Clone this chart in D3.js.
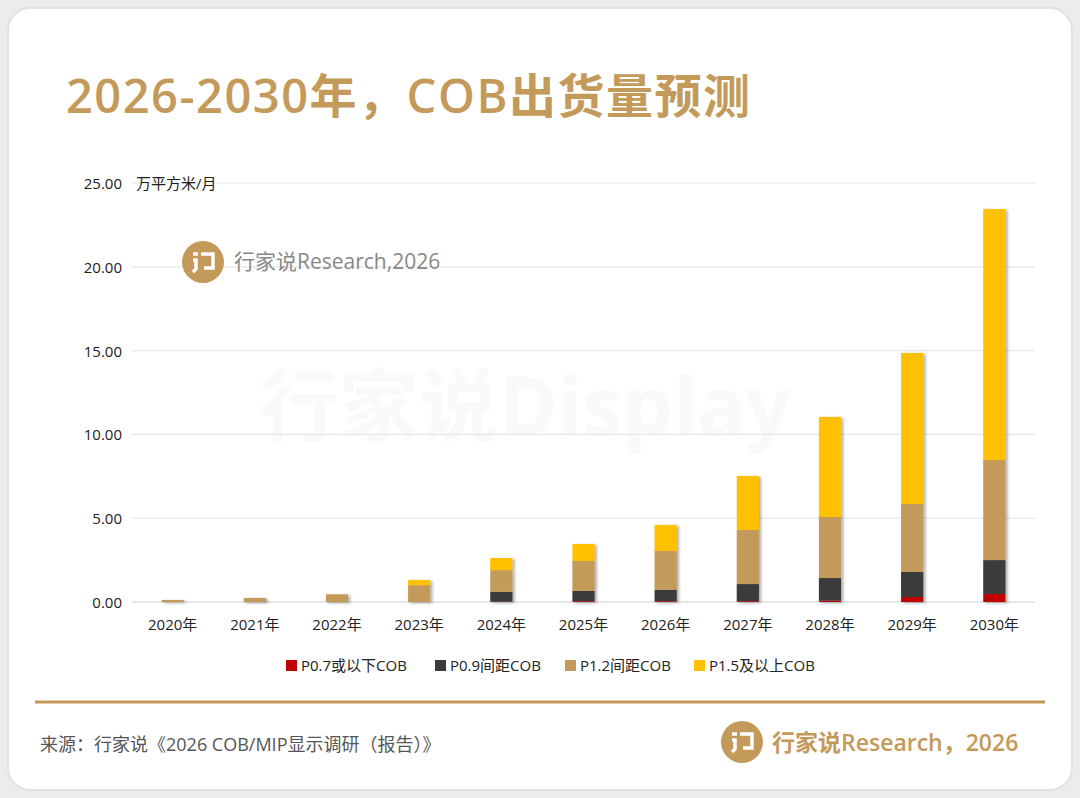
<!DOCTYPE html>
<html><head><meta charset="utf-8">
<script src="https://cdn.jsdelivr.net/npm/d3@7"></script>
<style>body{margin:0;background:#ececec;font-family:"Open Sans","Noto Sans CJK SC",sans-serif}</style>
</head><body><div id="vis"></div>
<script>
var years = ["2020年","2021年","2022年","2023年","2024年","2025年","2026年","2027年","2028年","2029年","2030年"];
var seriesNames = ["P0.7或以下COB","P0.9间距COB","P1.2间距COB","P1.5及以上COB"];
var colors = ["#C00000","#3A3A3A","#C49A5A","#FFC000"];
var p07 = [0, 0, 0, 0, 0.02, 0.05, 0.05, 0.05, 0.08, 0.30, 0.48];
var p09 = [0, 0, 0, 0, 0.58, 0.61, 0.67, 1.02, 1.35, 1.49, 2.02];
var p12 = [0.12, 0.24, 0.46, 1.00, 1.30, 1.79, 2.33, 3.23, 3.64, 4.06, 5.97];
var p15 = [0, 0, 0, 0.31, 0.72, 1.01, 1.55, 3.22, 5.97, 9.01, 14.98];
var yTicks = [0, 5, 10, 15, 20, 25];

var W = 1080, H = 798;
var svg = d3.select("#vis").append("svg").attr("width", W).attr("height", H);
var defs = svg.append("defs");
var f = defs.append("filter").attr("id", "sh").attr("x", "-20%").attr("width", "160%");
f.append("feDropShadow").attr("dx", 2).attr("dy", 1).attr("stdDeviation", 1.5).attr("flood-color", "#000").attr("flood-opacity", 0.35);

svg.append("rect").attr("x", 8).attr("y", 8).attr("width", W - 16).attr("height", H - 16)
    .attr("rx", 22).attr("fill", "#fff").attr("stroke", "#e2e2e2").attr("stroke-width", 2);

svg.append("text").attr("x", 66).attr("y", 113).attr("fill", "#C49A5A").attr("letter-spacing", 1.5)
    .attr("font-size", 47).attr("font-weight", 600).text("2026-2030年，COB出货量预测");

// watermark
svg.append("text").attr("x", 525).attr("y", 435).attr("text-anchor", "middle").attr("fill", "#8a6a40")
    .attr("opacity", 0.035).attr("font-size", 80).attr("font-weight", 700).text("行家说Display");

var margin = {left: 132, right: 45, top: 183, bottom: 196};
var x = d3.scaleBand().domain(years).range([margin.left, W - margin.right]).paddingInner(0.73).paddingOuter(0.36);
var y = d3.scaleLinear().domain([0, 25]).range([H - margin.bottom, margin.top]);

var g = svg.append("g");
g.selectAll(".grid").data(yTicks).enter().append("line")
    .attr("x1", margin.left).attr("x2", W - margin.right)
    .attr("y1", d => y(d)).attr("y2", d => y(d))
    .attr("stroke", d => d === 0 ? "#cfcfcf" : "#e6e6e6").attr("stroke-width", 1.2);
g.selectAll(".yl").data(yTicks).enter().append("text")
    .attr("x", 122).attr("y", d => y(d) + 6).attr("text-anchor", "end")
    .attr("font-size", 15).attr("fill", "#222").text(d => d.toFixed(2));
svg.append("text").attr("x", 136).attr("y", 189).attr("font-size", 15).attr("fill", "#222").text("万平方米/月");

// logo watermark
var lg = svg.append("g").attr("transform", "translate(203,262)");
lg.append("circle").attr("r", 21).attr("fill", "#C49A5A");
lg.append("path").attr("d", "M-10,-8 h5 M-10,-2 h3 v9 l-3,3 M-2,-8 h12 v14 h-9").attr("fill", "none").attr("stroke", "#fff").attr("stroke-width", 3.5);
svg.append("text").attr("x", 234).attr("y", 269).attr("font-size", 21).attr("fill", "#888").text("行家说Research,2026");

var data = years.map((yr, i) => ({year: yr, s0: p07[i], s1: p09[i], s2: p12[i], s3: p15[i]}));
var stack = d3.stack().keys(["s0", "s1", "s2", "s3"])(data);
var bars = svg.append("g").attr("filter", "url(#sh)");
bars.selectAll("g").data(stack).enter().append("g").attr("fill", (d, i) => colors[i])
    .selectAll("rect").data(d => d).enter().append("rect")
    .attr("x", d => x(d.data.year)).attr("width", x.bandwidth())
    .attr("y", d => y(d[1])).attr("height", d => y(d[0]) - y(d[1]));

svg.selectAll(".xl").data(years).enter().append("text")
    .attr("x", d => x(d) + x.bandwidth() / 2).attr("y", 630).attr("text-anchor", "middle")
    .attr("font-size", 15).attr("fill", "#222").text(d => d);

// legend
var legX = [286, 435, 565, 694];
var leg = svg.selectAll(".lg").data(seriesNames).enter().append("g")
    .attr("transform", (d, i) => "translate(" + legX[i] + ",666)");
leg.append("rect").attr("x", 0).attr("y", -6).attr("width", 11).attr("height", 11).attr("fill", (d, i) => colors[i]);
leg.append("text").attr("x", 15).attr("y", 5).attr("font-size", 15).attr("fill", "#222").text(d => d);

svg.append("line").attr("x1", 35).attr("x2", 1045).attr("y1", 702).attr("y2", 702).attr("stroke", "#C49A5A").attr("stroke-width", 3);
svg.append("text").attr("x", 40).attr("y", 751).attr("font-size", 18).attr("fill", "#555").text("来源：行家说《2026 COB/MIP显示调研（报告）》");

var lg2 = svg.append("g").attr("transform", "translate(742,742)");
lg2.append("circle").attr("r", 21).attr("fill", "#C49A5A");
lg2.append("path").attr("d", "M-10,-8 h5 M-10,-2 h3 v9 l-3,3 M-2,-8 h12 v14 h-9").attr("fill", "none").attr("stroke", "#fff").attr("stroke-width", 3.5);
svg.append("text").attr("x", 772).attr("y", 751).attr("font-size", 23).attr("font-weight", 600).attr("fill", "#C49A5A").text("行家说Research，2026");
</script></body></html>
